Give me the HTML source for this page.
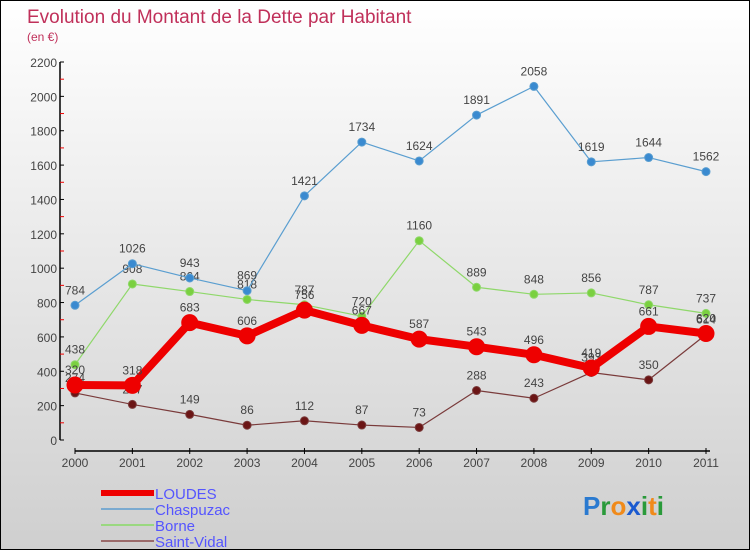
<!DOCTYPE html>
<html><head><meta charset="utf-8"><style>
html,body{margin:0;padding:0}
body{width:750px;height:550px;overflow:hidden;font-family:"Liberation Sans",sans-serif}
#c{position:absolute;left:0;top:0;width:748px;height:548px;border:1px solid #000;background:linear-gradient(#fff,#cfcfcf)}
</style></head><body>
<div id="c">
<svg id="s" width="748" height="548"></svg>
</div>
<script>
const years=["2000","2001","2002","2003","2004","2005","2006","2007","2008","2009","2010","2011"];
const loudes=[320,318,683,606,756,667,587,543,496,419,661,620];
const chaspuzac=[784,1026,943,869,1421,1734,1624,1891,2058,1619,1644,1562];
const borne=[438,908,864,818,787,720,1160,889,848,856,787,737];
const saintVidal=[274,207,149,86,112,87,73,288,243,393,350,614];
const yTicks=[0,200,400,600,800,1000,1200,1400,1600,1800,2000,2200];
const NS="http://www.w3.org/2000/svg";
const s=document.getElementById('s');
function X(i){return 74+i*(631/11);}
function Y(v){return 439-v*(378/2200);}
function mk(t,a,p){const e=document.createElementNS(NS,t);for(const k in a)e.setAttribute(k,a[k]);(p||s).appendChild(e);return e;}
function txt(x,y,str,size,fill,anchor){const e=mk('text',{x:x,y:y,'font-size':size,fill:fill,'text-anchor':anchor||'middle'});e.textContent=str;return e;}
let t=txt(26,22,"Evolution du Montant de la Dette par Habitant",19,"#c0305a","start");

t=txt(26,40,"(en €)",12,"#c0305a","start");

// y axis
let ax=mk('line',{x1:59,y1:Y(2200),x2:59,y2:Y(0),stroke:'#000','stroke-width':1.5});

yTicks.forEach((v,i)=>{mk('line',{x1:59,y1:Y(v),x2:63,y2:Y(v),stroke:'#000'});
 if(i<yTicks.length-1)mk('line',{x1:59,y1:Y(v+100),x2:63,y2:Y(v+100),stroke:'#e00'});
 const l=txt(56,Y(v)+5,String(v),12,"#444","end");});
ax=mk('line',{x1:X(0),y1:450,x2:X(11)+4,y2:450,stroke:'#000','stroke-width':1.5});

years.forEach((y,i)=>{mk('line',{x1:X(i),y1:447,x2:X(i),y2:453,stroke:'#000'});
 const l=txt(X(i),466,y,12,"#444");});
function series(data,color,w,r,dot,name){
 const g=mk('g',{});
 mk('polyline',{points:data.map((v,i)=>X(i)+','+Y(v)).join(' '),fill:'none',stroke:color,'stroke-width':w,'stroke-linejoin':'round'},g);
 data.forEach((v,i)=>{const c=mk('circle',{cx:X(i),cy:Y(v),r:r,fill:dot,stroke:color,'stroke-width':1},g);
  
  txt(X(i),Y(v)-11,String(v),12,"#444");});
}
series(saintVidal,'#7a3b3b',1.2,4,'#6b1515','saint-vidal');
series(borne,'#8fd86a',1.2,4,'#7ad040','borne');
series(chaspuzac,'#5a9ed0',1.2,4,'#3a8ad0','chaspuzac');
series(loudes,'#ee0000',8,8,'#ee0000','loudes');
// legend
const leg=[["LOUDES","#ee0000",6],["Chaspuzac","#7aaad0",2],["Borne","#9ad880",2],["Saint-Vidal","#9a6a6a",2]];
leg.forEach((l,i)=>{const g=mk('g',{});
 const y=492+i*16;mk('line',{x1:100,y1:y,x2:153,y2:y,stroke:l[1],'stroke-width':l[2]},g);
 const e=mk('text',{x:154,y:y+6,'font-size':15,fill:'#5555ff'},g);e.textContent=l[0];});
const p=mk('text',{x:582,y:514,'font-size':26,'font-weight':'bold'});

[["P","#2a7ad0"],["r","#2a9a3a"],["o","#f08a1a"],["x","#1a5ad0"],["i","#2a9a3a"],["t","#f08a1a"],["i","#2a9a3a"]].forEach(c=>{const sp=mk('tspan',{fill:c[1]},p);sp.textContent=c[0];});
</script>
</body></html>
